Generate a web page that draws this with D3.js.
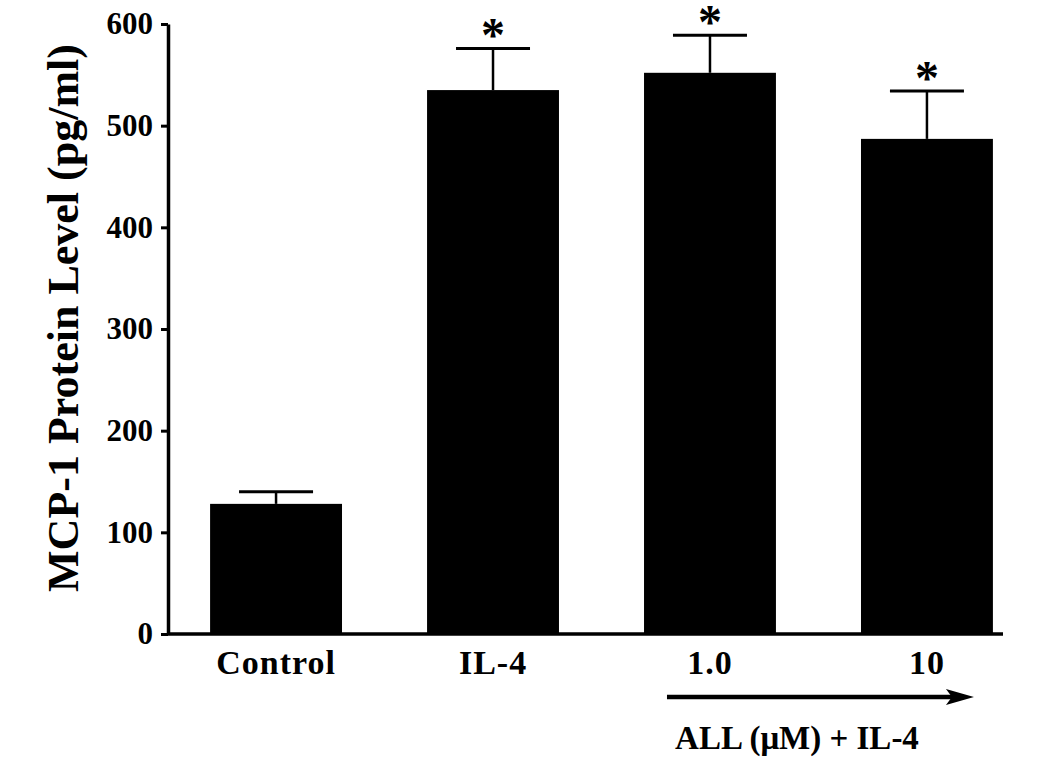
<!DOCTYPE html>
<html><head><meta charset="utf-8">
<script src="https://cdn.jsdelivr.net/npm/d3@7"></script>
<style>body{margin:0;background:#fff}svg{display:block}text{font-family:"Liberation Serif","Times New Roman",serif;font-weight:bold}</style>
</head><body>
<svg id="c" width="1050" height="765"></svg>
<script>
const categories = ["Control", "IL-4", "1.0", "10"];
const means = [128, 535, 552, 487];
const errors = [12, 41, 37, 47];
const significant = [false, true, true, true];
const yTicks = [0, 100, 200, 300, 400, 500, 600];
const yLabel = "MCP-1 Protein Level (pg/ml)";
const groupLabel = "ALL (\u03BCM) + IL-4";

(function(){
const svg = d3.select("#c");
const mLeft = 168, mRight = 1003, mTop = 24, mBottom = 634;
const x = d3.scaleBand().domain(categories).range([168, 1035]).paddingInner(0.392).paddingOuter(0.194);
const y = d3.scaleLinear().domain([0, 600]).range([mBottom, mTop]);

// bars
svg.selectAll("rect.bar").data(categories).enter().append("rect")
  .attr("x", d => x(d)).attr("width", x.bandwidth())
  .attr("y", (d,i) => y(means[i])).attr("height", (d,i) => y(0) - y(means[i]))
  .attr("fill", "#000");

// error bars
const eb = svg.selectAll("g.eb").data(categories).enter().append("g");
eb.append("line").attr("x1", d => x(d)+x.bandwidth()/2).attr("x2", d => x(d)+x.bandwidth()/2)
  .attr("y1", (d,i)=>y(means[i])).attr("y2", (d,i)=>y(means[i]+errors[i]))
  .attr("stroke","#000").attr("stroke-width",2.5);
eb.append("line").attr("x1", d => x(d)+x.bandwidth()/2-37).attr("x2", d => x(d)+x.bandwidth()/2+37)
  .attr("y1", (d,i)=>y(means[i]+errors[i])).attr("y2", (d,i)=>y(means[i]+errors[i]))
  .attr("stroke","#000").attr("stroke-width",3);
eb.filter((d,i)=>significant[i]).append("text")
  .attr("x", d => x(d)+x.bandwidth()/2).attr("y", d => { const i = categories.indexOf(d); return y(means[i]+errors[i]) + 3; })
  .attr("text-anchor","middle").attr("font-size",48).text("*");

// y axis
const yAxis = d3.axisLeft(y).tickValues(yTicks).tickSize(7).tickPadding(8).tickSizeOuter(0);
const gy = svg.append("g").attr("transform", `translate(${mLeft},0)`).call(yAxis);
gy.select(".domain").attr("stroke-width",3.5);
gy.selectAll(".tick line").attr("stroke-width",3);
gy.selectAll(".tick text").attr("font-size",31).attr("font-family","Liberation Serif").attr("font-weight","bold").attr("fill","#000");

// x axis
const xAxis = d3.axisBottom(x).tickSize(0).tickPadding(16).tickSizeOuter(0);
const gx = svg.append("g").attr("transform", `translate(0,${mBottom})`).call(xAxis);
gx.select(".domain").attr("d", `M${mLeft},0H${mRight}`).attr("stroke-width",3.5);
gx.selectAll(".tick text").attr("font-size",34).attr("letter-spacing",1).attr("font-family","Liberation Serif").attr("font-weight","bold").attr("fill","#000");

// y label
svg.append("text").attr("transform","translate(78,318) rotate(-90)").attr("text-anchor","middle")
  .attr("font-size",44).text(yLabel);

// arrow
const ax1 = x("1.0") + x.bandwidth()/2 - 43, ax2 = x("10") + x.bandwidth()/2 + 47;
svg.append("line").attr("x1", ax1).attr("x2", ax2 - 10).attr("y1", 697).attr("y2", 697)
  .attr("stroke","#000").attr("stroke-width",4.5);
svg.append("path").attr("d", `M${ax2-28},689 L${ax2},697 L${ax2-28},705 L${ax2-22},697 Z`).attr("fill","#000");
svg.append("text").attr("x", 797).attr("y", 749).attr("text-anchor","middle")
  .attr("font-size",33).text(groupLabel);
})();
</script>
</body></html>
